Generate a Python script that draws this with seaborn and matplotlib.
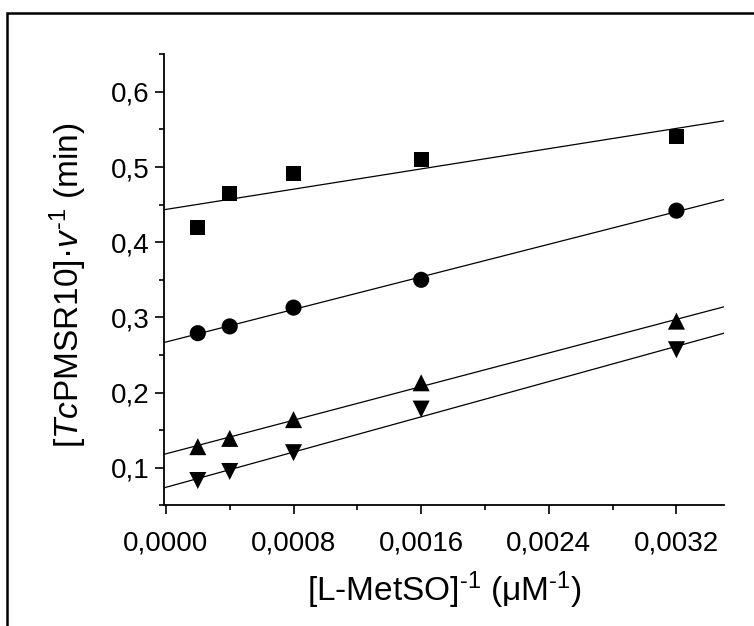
import numpy as np
import pandas as pd
import matplotlib
matplotlib.use("Agg")
import matplotlib.pyplot as plt
from matplotlib.ticker import FixedLocator, MultipleLocator, FuncFormatter
from matplotlib.patches import Rectangle
import seaborn as sns

# ---- data ----
inv_metso = [0.0002, 0.0004, 0.0008, 0.0016, 0.0032]
series_square = [0.420, 0.465, 0.491, 0.510, 0.541]
series_circle = [0.279, 0.288, 0.313, 0.350, 0.442]
series_up = [0.128, 0.139, 0.164, 0.213, 0.295]
series_down = [0.083, 0.095, 0.120, 0.178, 0.257]
series_names = ["square", "circle", "up", "down"]
x_ticks = [0.0, 0.0008, 0.0016, 0.0024, 0.0032]
y_ticks = [0.1, 0.2, 0.3, 0.4, 0.5, 0.6]

sns.set_theme(style="ticks")
plt.rcParams["font.family"] = ["Liberation Sans", "DejaVu Sans"]
plt.rcParams["mathtext.fontset"] = "custom"
plt.rcParams["mathtext.rm"] = "Liberation Sans"
plt.rcParams["mathtext.it"] = "Liberation Sans:italic"
plt.rcParams["mathtext.default"] = "regular"

df = pd.DataFrame({
    "x": inv_metso * 4,
    "y": series_square + series_circle + series_up + series_down,
    "s": [n for n in series_names for _ in inv_metso],
})

fig = plt.figure(figsize=(7.54, 6.26), dpi=100)
ax = fig.add_axes([164.3 / 754, 1 - 505.3 / 626, (724.3 - 164.3) / 754, (505.3 - 54.3) / 626])
ax.set_xlim(-0.00001, 0.0035)
ax.set_ylim(0.05, 0.65)

markers = {"square": "s", "circle": "o", "up": "^", "down": "v"}
sizes = {"square": 120, "circle": 135, "up": 150, "down": 150}
for name in series_names:
    sub = df[df["s"] == name]
    sns.regplot(data=sub, x="x", y="y", ax=ax, scatter=False, ci=None,
                truncate=False, line_kws=dict(color="black", lw=0.9))
    sns.scatterplot(data=sub, x="x", y="y", ax=ax, marker=markers[name],
                    s=sizes[name], color="black", edgecolor="none", zorder=3)

ax.set_xlim(-0.00001, 0.0035)
ax.set_ylim(0.05, 0.65)

for sp in ["top", "right"]:
    ax.spines[sp].set_visible(False)
for sp in ["left", "bottom"]:
    ax.spines[sp].set_linewidth(1.3)
    ax.spines[sp].set_color("black")

ax.xaxis.set_major_locator(FixedLocator(x_ticks))
ax.xaxis.set_minor_locator(MultipleLocator(0.0004))
ax.yaxis.set_major_locator(FixedLocator(y_ticks))
ax.yaxis.set_minor_locator(MultipleLocator(0.05))
ax.xaxis.set_major_formatter(FuncFormatter(lambda v, p: f"{v:.4f}".replace(".", ",")))
ax.yaxis.set_major_formatter(FuncFormatter(lambda v, p: f"{v:.1f}".replace(".", ",")))
ax.tick_params(axis="both", which="major", direction="out", length=6.5, width=1.2,
               labelsize=20, color="black", labelcolor="black")
ax.tick_params(axis="x", which="major", pad=12)
ax.tick_params(axis="y", which="major", pad=4)
ax.tick_params(axis="both", which="minor", direction="out", length=3.5, width=1.2, color="black")

ax.set_xlabel("[L-MetSO]$^{\\text{-}1}$ (μM$^{\\text{-}1}$)", fontsize=24, color="black", labelpad=9)
ax.set_ylabel("[$\\mathit{Tc}$PMSR10]·$\\mathit{v}^{\\text{-}1}$ (min)", fontsize=24,
              color="black", labelpad=16)
ax.yaxis.label.set_y(0.487)

frame = Rectangle((7 / 754, -0.2), 1.2, 0.2 + 1 - 13 / 626, transform=fig.transFigure,
                  fill=False, edgecolor="black", linewidth=1.8, clip_on=False)
fig.patches.append(frame)

fig.savefig("out.png", dpi=100, facecolor="white")
